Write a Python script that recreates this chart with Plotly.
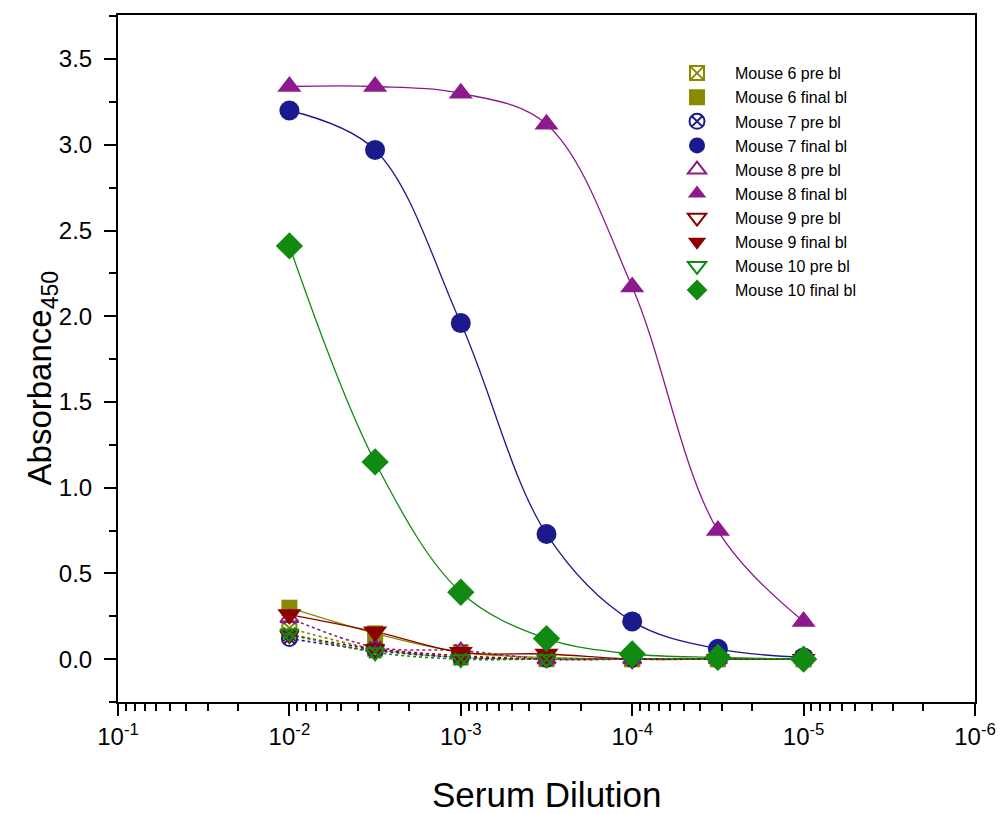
import plotly.graph_objects as go

dilution = [1e-2, 10**-2.5, 1e-3, 10**-3.5, 1e-4, 10**-4.5, 1e-5]

m6_pre = [0.18, 0.06, 0.01, 0.0, 0.0, 0.0, 0.0]
m6_final = [0.30, 0.15, 0.04, 0.01, 0.0, 0.0, 0.0]
m7_pre = [0.12, 0.05, 0.01, 0.0, 0.0, 0.0, 0.0]
m7_final = [3.20, 2.97, 1.96, 0.73, 0.22, 0.06, 0.01]
m8_pre = [0.24, 0.07, 0.05, 0.0, 0.0, 0.0, 0.0]
m8_final = [3.34, 3.34, 3.30, 3.12, 2.17, 0.75, 0.22]
m9_pre = [0.14, 0.06, 0.02, 0.0, 0.0, 0.0, 0.0]
m9_final = [0.26, 0.16, 0.04, 0.03, 0.0, 0.0, 0.0]
m10_pre = [0.15, 0.04, 0.0, 0.0, 0.0, 0.0, 0.0]
m10_final = [2.41, 1.15, 0.39, 0.12, 0.03, 0.01, 0.0]

x_tickvals = [1e-1, 1e-2, 1e-3, 1e-4, 1e-5, 1e-6]
x_ticktext = ["10<sup>-1</sup>", "10<sup>-2</sup>", "10<sup>-3</sup>",
              "10<sup>-4</sup>", "10<sup>-5</sup>", "10<sup>-6</sup>"]

OLIVE = "#8a8a00"
NAVY = "#1a1a8c"
PURPLE = "#8c1a8c"
DRED = "#8c0000"
GREEN = "#108a10"

FONT = "Liberation Sans, Arial"

series = [
    ("Mouse 6 pre bl", m6_pre, OLIVE, "square-x-open", 14, False, None),
    ("Mouse 6 final bl", m6_final, OLIVE, "square", 16, True, None),
    ("Mouse 7 pre bl", m7_pre, NAVY, "circle-x-open", 15, False, None),
    ("Mouse 7 final bl", m7_final, NAVY, "circle", 20, True, None),
    ("Mouse 8 pre bl", m8_pre, PURPLE, "triangle-up-open", 16, False, "x-thin-open"),
    ("Mouse 8 final bl", m8_final, PURPLE, "triangle-up", 21, True, None),
    ("Mouse 9 pre bl", m9_pre, DRED, "triangle-down-open", 16, False, "x-thin-open"),
    ("Mouse 9 final bl", m9_final, DRED, "triangle-down", 21, True, None),
    ("Mouse 10 pre bl", m10_pre, GREEN, "triangle-down-open", 16, False, "x-thin-open"),
    ("Mouse 10 final bl", m10_final, GREEN, "diamond", 21, True, None),
]

fig = go.Figure()

# fit-like lines
for name, ys, col, sym, sz, final, extra in series:
    fig.add_trace(go.Scatter(
        x=dilution, y=ys, mode="lines",
        line=dict(color=col, width=1.3 if final else 1.6, shape="spline", smoothing=1.0,
                  dash="solid" if final else "dot"),
        showlegend=False, hoverinfo="skip"))

# markers
for i, (name, ys, col, sym, sz, final, extra) in enumerate(series):
    lw = 0 if final else 2
    fig.add_trace(go.Scatter(
        x=dilution, y=ys, mode="markers", name=name, legendgroup="g%d" % i,
        marker=dict(symbol=sym, size=sz, color=col, line=dict(color=col, width=lw))))
    if extra:
        fig.add_trace(go.Scatter(
            x=dilution, y=ys, mode="markers", showlegend=False, legendgroup="g%d" % i,
            marker=dict(symbol=extra, size=sz - 4, color=col, line=dict(color=col, width=2))))

axis_common = dict(showline=True, linecolor="black", linewidth=2, mirror=True,
                   showgrid=False, zeroline=False, ticks="outside", tickcolor="black",
                   tickwidth=1.5, automargin=False,
                   tickfont=dict(family=FONT, size=24, color="black"))

minor_x = []
for e in range(-2, -7, -1):
    for k in range(2, 10):
        minor_x.append(k * 10**e)

fig.update_xaxes(type="log", range=[-1, -6], tickmode="array",
                 tickvals=x_tickvals, ticktext=x_ticktext, ticklen=12,
                 minor=dict(tickmode="array", tickvals=minor_x, ticks="outside",
                            ticklen=7, tickcolor="black", tickwidth=1.5, showgrid=False),
                 **axis_common)
fig.update_yaxes(range=[-0.25, 3.757], tickmode="linear", tick0=0, dtick=0.5,
                 tickformat=".1f", ticklen=12, ticklabelstandoff=7,
                 minor=dict(tickmode="linear", tick0=0.25, dtick=0.5, ticks="outside",
                            ticklen=7, tickcolor="black", tickwidth=1.5, showgrid=False),
                 **axis_common)

fig.add_annotation(text="Serum Dilution", xref="paper", yref="paper",
                   x=0.5, y=-0.135, xanchor="center", yanchor="middle", showarrow=False,
                   font=dict(family=FONT, size=35, color="black"))
fig.add_annotation(text="Absorbance<sub>450</sub>", xref="paper", yref="paper",
                   x=-0.089, y=0.472, xanchor="center", yanchor="middle", showarrow=False,
                   textangle=-90, font=dict(family=FONT, size=33, color="black"))

fig.update_layout(
    width=1000, height=814,
    margin=dict(l=118, r=25, t=15, b=112),
    plot_bgcolor="white", paper_bgcolor="white",
    legend=dict(x=0.6313, y=0.940, xanchor="left", yanchor="top",
                bgcolor="rgba(0,0,0,0)", borderwidth=0,
                traceorder="grouped", tracegroupgap=0.3, itemwidth=66,
                font=dict(family=FONT, size=16, color="black")),
)

fig.write_html("out.html", config={"displayModeBar": False},
               post_script="document.body.style.margin='0';document.body.style.overflow='hidden';")
